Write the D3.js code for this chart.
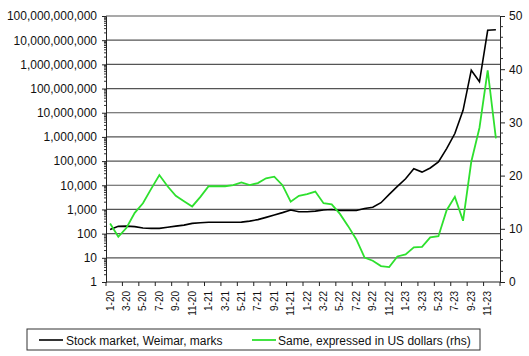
<!DOCTYPE html>
<html><head><meta charset="utf-8">
<script src="https://cdn.jsdelivr.net/npm/d3@7"></script>
<style>body{margin:0;background:#fff}svg{display:block}text{font-family:"Liberation Sans",Arial,sans-serif;fill:#111}</style>
</head><body><svg id="c" width="529" height="356"></svg>
<script>
const months = ["1-20","2-20","3-20","4-20","5-20","6-20","7-20","8-20","9-20","10-20","11-20","12-20",
"1-21","2-21","3-21","4-21","5-21","6-21","7-21","8-21","9-21","10-21","11-21","12-21",
"1-22","2-22","3-22","4-22","5-22","6-22","7-22","8-22","9-22","10-22","11-22","12-22",
"1-23","2-23","3-23","4-23","5-23","6-23","7-23","8-23","9-23","10-23","11-23","12-23"];
const stockMarks = [150,200,205,195,170,165,165,185,205,225,265,280,
295,295,295,295,300,330,380,470,590,740,950,800,
800,850,950,1000,900,900,900,1100,1230,1900,4200,9000,
18600,48000,35000,52000,93000,330000,1380000,12600000,575000000,190000000,25700000000,27000000000];
const stockUSD = [11.0,8.5,10.2,13.0,14.8,17.5,20.1,18.0,16.2,15.2,14.2,16.0,
18.0,18.0,18.0,18.2,18.7,18.2,18.6,19.5,19.8,18.2,15.1,16.2,
16.5,17.0,14.8,14.6,12.8,10.5,8.0,4.6,4.0,3.0,2.8,4.8,
5.2,6.5,6.6,8.4,8.6,13.5,16.0,11.5,22.6,29.0,39.8,27.0];
const leftTicks = [1,10,100,1000,1e4,1e5,1e6,1e7,1e8,1e9,1e10,1e11];
const rightTicks = [0,10,20,30,40,50];
const seriesNames = ["Stock market, Weimar, marks","Same, expressed in US dollars (rhs)"];

const svg = d3.select("#c");
const L=106,R=500,T=16,B=282;
const x = d3.scaleBand().domain(months).range([L,R]).padding(0);
const yL = d3.scaleLog().domain([1,1e11]).range([B,T]);
const yR = d3.scaleLinear().domain([0,50]).range([B,T]);
const cx = d => x(d)+x.bandwidth()/2;

// gridlines
svg.append("g").selectAll("line").data(leftTicks.filter(v=>v>1)).join("line")
  .attr("x1",L).attr("x2",R).attr("y1",d=>yL(d)).attr("y2",d=>yL(d))
  .attr("stroke","#555").attr("stroke-width",1.2);

// left axis
const fmt = d3.format(",");
const gl = svg.append("g").attr("transform",`translate(${L},0)`)
  .call(d3.axisLeft(yL).tickValues(leftTicks).tickFormat(d=>fmt(d)).tickSize(4).tickPadding(5));
gl.select(".domain").attr("stroke","#222");
gl.selectAll("text").attr("font-size",12).attr("fill","#111");
gl.selectAll(".tick line").attr("stroke","#222");
// minor log ticks
const minor=[];
leftTicks.slice(0,-1).forEach(p=>{for(let k=2;k<10;k++)minor.push(p*k);});
svg.append("g").selectAll("line").data(minor).join("line")
  .attr("x1",L-2).attr("x2",L).attr("y1",d=>yL(d)).attr("y2",d=>yL(d)).attr("stroke","#333");

// right axis
const gr = svg.append("g").attr("transform",`translate(${R},0)`)
  .call(d3.axisRight(yR).tickValues(rightTicks).tickSize(5).tickPadding(4));
gr.select(".domain").attr("stroke","#222");
gr.selectAll("text").attr("font-size",12).attr("fill","#111");
gr.selectAll(".tick line").attr("stroke","#222");
svg.append("g").selectAll("line").data(d3.range(2,50,2).filter(v=>v%10)).join("line")
  .attr("x1",R).attr("x2",R+3).attr("y1",d=>yR(d)).attr("y2",d=>yR(d)).attr("stroke","#333");

// x axis
svg.append("line").attr("x1",L).attr("x2",R).attr("y1",B).attr("y2",B).attr("stroke","#222");
const even = months.filter((d,i)=>i%2===0);
svg.append("g").selectAll("line").data(even).join("line")
  .attr("x1",d=>x(d)).attr("x2",d=>x(d)).attr("y1",B).attr("y2",B+4).attr("stroke","#222");
svg.append("line").attr("x1",R).attr("x2",R).attr("y1",B).attr("y2",B+4).attr("stroke","#222");
svg.append("g").selectAll("text").data(even).join("text")
  .attr("transform",d=>`translate(${cx(d)+3.5},${B+9}) rotate(-90)`)
  .attr("text-anchor","end").attr("font-size",10).text(d=>d);

// lines
svg.append("path").datum(stockMarks)
  .attr("d",d3.line().x((d,i)=>cx(months[i])).y(d=>yL(d)))
  .attr("fill","none").attr("stroke","#000").attr("stroke-width",1.6);
svg.append("path").datum(stockUSD)
  .attr("d",d3.line().x((d,i)=>cx(months[i])).y(d=>yR(d)))
  .attr("fill","none").attr("stroke","#2ee02e").attr("stroke-width",1.8);

// legend
const lg = svg.append("g");
lg.append("rect").attr("x",27).attr("y",329).attr("width",453).attr("height",21)
  .attr("fill","#fff").attr("stroke","#333");
lg.append("line").attr("x1",39).attr("x2",63).attr("y1",340).attr("y2",340).attr("stroke","#000").attr("stroke-width",1.6);
lg.append("text").attr("x",66).attr("y",344.5).attr("font-size",12).text(seriesNames[0]);
lg.append("line").attr("x1",252).attr("x2",276).attr("y1",340).attr("y2",340).attr("stroke","#2ee02e").attr("stroke-width",1.8);
lg.append("text").attr("x",278).attr("y",344.5).attr("font-size",12).text(seriesNames[1]);
</script></body></html>
